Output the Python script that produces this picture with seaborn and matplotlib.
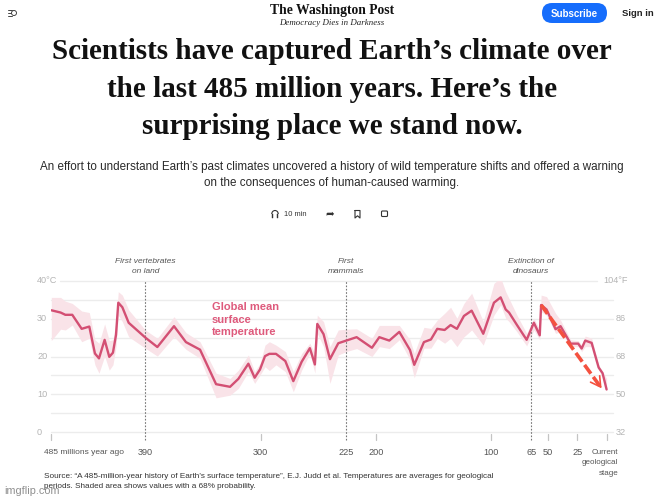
import matplotlib
matplotlib.use('Agg')
import matplotlib.pyplot as plt
from matplotlib.patches import FancyBboxPatch, Arc, Rectangle
import numpy as np
import seaborn as sns

# millions of years ago
ages = [485, 475.6, 470.8, 463.8, 454.3, 446.6, 440.9, 436.8, 431.1, 426.4, 422.7, 419.6, 417.3, 413.2, 406.8, 390,
        380.6, 367.6, 358.3, 347.3, 334.8, 323.9, 317.4, 309.6, 304.7, 300.5, 296.2, 292.4, 286.6, 278.4, 271.4,
        264.1, 256.9, 252.5, 250.4, 244.9,
        239.3, 232, 225, 216.3, 203.4, 197.1, 188.4, 179.7, 170.4, 166.7, 158.3, 152.2, 146.7, 140.3, 135.1, 129.6,
        123.5, 116.8, 106.7, 97.4, 91.6, 87.2, 84.3, 77.4, 69, 62.7, 57.5, 56.3, 51.5, 43.7, 39.4, 30.7, 24.2, 21.3,
        18.3, 12.9, 7, 3.7, 0.3]
temps = [32.2, 31.6, 31.0, 31.0, 27.3, 27.9, 20.8, 19.5, 24.4, 19.9, 21.0, 25.7, 34.2, 33.0, 28.9, 25.0,
         22.5, 28.0, 23.8, 21.8, 12.7, 12.0, 14.1, 18.1, 14.4, 16.6, 20.1, 20.7, 20.7, 18.8, 13.5,
         18.6, 22.2, 17.9, 28.6, 25.9,
         19.3, 23.5, 24.2, 25.1, 22.3, 25.1, 24.2, 26.5, 21.7, 17.8, 23.8, 24.5, 27.3, 27.0, 28.3, 27.3,
         30.7, 32.1, 26.0, 34.2, 35.6, 32.4, 31.6, 28.3, 24.4, 28.9, 25.6, 33.6, 32.4, 27.2, 28.0, 23.4, 23.4, 22.1,
         24.2, 23.6, 17.1, 15.6, 11.3]
upper = [35.6, 35.6, 34.6, 34.0, 32.0, 31.6, 24.4, 23.5, 28.6, 24.2, 24.4, 29.2, 37.1, 36.2, 32.3, 27.0,
         24.8, 30.5, 26.3, 23.9, 15.6, 14.2, 16.4, 20.4, 16.0, 18.2, 23.0, 23.9, 23.0, 21.3, 16.0,
         20.8, 23.5, 20.8, 30.9, 29.2,
         22.6, 27.0, 27.2, 27.3, 24.8, 28.2, 28.2, 28.2, 24.4, 20.8, 27.7, 27.4, 29.6, 31.4, 33.0, 30.1,
         34.0, 36.7, 29.2, 39.3, 40.8, 37.1, 35.3, 30.9, 26.1, 30.1, 27.0, 36.2, 35.8, 31.4, 29.6, 24.4, 24.2, 23.0,
         25.4, 24.8, 17.8, 16.0, 14.2]
lower = [24.2, 27.2, 27.0, 28.3, 23.9, 24.8, 17.8, 15.6, 20.1, 16.4, 17.8, 22.6, 30.9, 29.2, 25.2, 22.2,
         20.1, 25.2, 21.9, 19.5, 9.1, 9.8, 11.6, 16.0, 12.9, 15.1, 17.3, 16.3, 17.8, 16.0, 10.7,
         16.4, 20.8, 15.6, 26.1, 22.6,
         12.9, 20.4, 21.3, 22.1, 20.0, 22.6, 22.1, 24.4, 19.1, 14.4, 22.2, 22.2, 24.8, 23.5, 24.8, 22.6,
         25.2, 27.0, 23.0, 30.9, 33.6, 30.1, 29.2, 26.5, 22.8, 27.0, 24.4, 31.8, 30.9, 26.1, 26.5, 22.6, 22.6, 21.3,
         22.6, 22.6, 16.4, 14.9, 11.2]

age_ticks = [485, 390, 300, 225, 200, 100, 65, 50, 25, 0]
age_labels = ['485 millions year ago', '390', '300', '225', '200', '100', '65', '50', '25',
              'Current\ngeological\nstage']
celsius_ticks = [0, 10, 20, 30, 40]
celsius_labels = ['0', '10', '20', '30', '40°C']
fahrenheit_labels = ['32', '50', '68', '86', '104°F']
events = [(390, 'First vertebrates\non land'), (225, 'First\nmammals'), (65, 'Extinction of\ndinosaurs')]

sns.set_style('white')
plt.rcParams['font.family'] = ['Liberation Sans', 'DejaVu Sans']

LINE = '#d34f73'
BAND = '#f9e3e8'
GRID = '#ececec'
SOFT = '#b4b4b4'

fig = plt.figure(figsize=(6.57, 4.99), dpi=100)

# page layer in pixels, for the article header around the chart
page = fig.add_axes([0, 0, 1, 1])
page.set_xlim(0, 657)
page.set_ylim(499, 0)
page.axis('off')

page.text(332, 14, 'The Washington Post', family='Liberation Serif', weight='bold', size=9.8,
          ha='center', va='baseline', color='#111111')
page.text(332, 24.5, 'Democracy Dies in Darkness', family='Liberation Serif', style='italic', size=6.4,
          ha='center', va='baseline', color='#222222')
page.add_patch(FancyBboxPatch((542, 3), 65, 20, boxstyle='round,pad=0,rounding_size=10', fc='#166dfc', lw=0))
page.text(574.5, 13.5, 'Subscribe', size=7, weight='bold', color='white', ha='center', va='center')
page.text(637.5, 13.5, 'Sign in', size=6.8, weight='bold', color='#222222', ha='center', va='center')
for y, x1 in [(10, 12), (13, 11), (16, 12)]:
    page.plot([7.5, x1], [y, y], color='#444444', lw=0.7)
page.add_patch(Arc((14, 13), 5, 5, color='#444444', lw=0.7))

for y, line in zip([59, 96.5, 133.5], ['Scientists have captured Earth’s climate over',
                                       'the last 485 million years. Here’s the',
                                       'surprising place we stand now.']):
    page.text(332, y, line, family='Liberation Serif', weight='bold', size=21, ha='center', va='baseline',
              color='#111111')
page.text(332, 170, 'An effort to understand Earth’s past climates uncovered a history of wild temperature shifts and offered a warning',
          size=8.4, ha='center', va='baseline', color='#2a2a2a')
page.text(332, 186, 'on the consequences of human-caused warming.', size=8.4, ha='center', va='baseline', color='#2a2a2a')

# toolbar icons
ICON = '#333333'
page.add_patch(Arc((275, 214), 6.5, 7, theta1=180, theta2=0, color=ICON, lw=0.8))
page.add_patch(Rectangle((271.8, 214), 1.6, 3.5, fc=ICON, ec=ICON, lw=0.3))
page.add_patch(Rectangle((276.6, 214), 1.6, 3.5, fc=ICON, ec=ICON, lw=0.3))
page.text(295.5, 214, '10 min', size=5.4, ha='center', va='center', color='#333333')
page.text(329.5, 214, '➦', family='DejaVu Sans', size=7.5, ha='center', va='center', color=ICON)
page.plot([355, 355, 357.5, 360, 360, 355], [210.5, 218, 215.8, 218, 210.5, 210.5], color=ICON, lw=0.8)
page.add_patch(FancyBboxPatch((381.5, 211), 6, 5.5, boxstyle='round,pad=0,rounding_size=1', fc='none', ec=ICON, lw=0.8))

# watermark
page.text(4, 490.5, 'imgflip.com', size=7.8, color='#8f8f8f', ha='left', va='center')

# chart: the age axis is not even across the record, so it is stretched between its labelled ticks
ax = fig.add_axes([51.3 / 657, 1 - 432.3 / 499, (613 - 51.3) / 657, 151.6 / 499], facecolor='none')
knot_age = [-100, 0, 25, 50, 65, 100, 200, 225, 300, 390, 485, 600]
knot_pos = [-108.0, 0, 29.7, 58.7, 75.7, 116, 231, 260.7, 346.3, 461.7, 555.7, 670]


def age_to_pos(a):
    return np.interp(a, knot_age, knot_pos)


def pos_to_age(p):
    return np.interp(p, knot_pos, knot_age)


ax.set_xscale('function', functions=(age_to_pos, pos_to_age))
ax.set_xlim(485, -5.6)
ax.set_ylim(0, 40)
sns.despine(ax=ax, left=True, bottom=True)

for c in np.arange(0, 36, 5):
    ax.axhline(c, color=GRID, lw=1, zorder=0, clip_on=False)
ax.plot([476, 8], [40, 40], color=GRID, lw=1, zorder=0, clip_on=False)
ax.fill_between(ages, lower, upper, color=BAND, lw=0, zorder=1)
for a, note in events:
    ax.plot([a, a], [-1.9, 40], color='#777777', lw=0.8, ls=(0, (1.5, 1.5)), zorder=2, clip_on=False)
    ax.text(a, 41.4, note, size=6, style='italic', color='#555555', ha='center', va='bottom', linespacing=1.7)
sns.lineplot(x=ages, y=temps, color=LINE, lw=1.7, ax=ax, zorder=3)

ax.set_xticks(age_ticks, labels=[])
ax.set_yticks(celsius_ticks, labels=[])
ax.tick_params(axis='both', length=0)
ax.set_xlabel('')
ax.set_ylabel('')
for a, label in zip(age_ticks, age_labels):
    if a not in [390, 225, 65]:
        ax.plot([a, a], [-0.4, -1.9], color='#c4c4c4', lw=0.9, clip_on=False)
    if a == 485:
        ax.annotate(label, (a, 0), xytext=(-5.3, -14.4), textcoords='offset points', size=6, color='#555555',
                    ha='left', va='center', annotation_clip=False)
    elif a == 0:
        ax.annotate(label, (a, 0), xytext=(8, -11.8), textcoords='offset points', size=5.8, color='#555555',
                    ha='right', va='top', linespacing=1.75, annotation_clip=False)
    else:
        ax.annotate(label, (a, 0), xytext=(0, -14.4), textcoords='offset points', size=6.6, color='#555555',
                    ha='center', va='center', annotation_clip=False)
for c, lc, lf in zip(celsius_ticks, celsius_labels, fahrenheit_labels):
    ax.annotate(lc, (485, c), xytext=(-10.3, 0), textcoords='offset points', size=6.6, color=SOFT, ha='left',
                va='center', annotation_clip=False)
    ax.annotate(lf, (-5.6, c), xytext=(2 if c < 40 else -7, 0), textcoords='offset points', size=6.6, color=SOFT,
                ha='left', va='center', annotation_clip=False)

ax.text(338, 34.3, 'Global mean\nsurface\ntemperature', size=8, weight='bold', color='#de5a7c', ha='left', va='top',
        linespacing=1.32)

# hand drawn arrow on top of the recent cooling
ax.plot([56.3, 5.5], [33.6, 12], color='#f4513f', lw=2.6, ls=(0, (3, 1.1)), zorder=4)
ax.annotate('', xy=(4.5, 11.6), xytext=(8.5, 13.4), zorder=5,
            arrowprops=dict(arrowstyle='->,head_length=0.7,head_width=0.4', color='#f4513f', lw=1.2, shrinkA=0, shrinkB=0))

page.text(44, 476, 'Source: “A 485-million-year history of Earth’s surface temperature”, E.J. Judd et al. Temperatures are averages for geological',
          size=5.85, color='#333333', ha='left', va='center')
page.text(44, 486, 'periods. Shaded area shows values with a 68% probability.', size=5.85, color='#333333', ha='left', va='center')

fig.savefig('out.png', dpi=100)
